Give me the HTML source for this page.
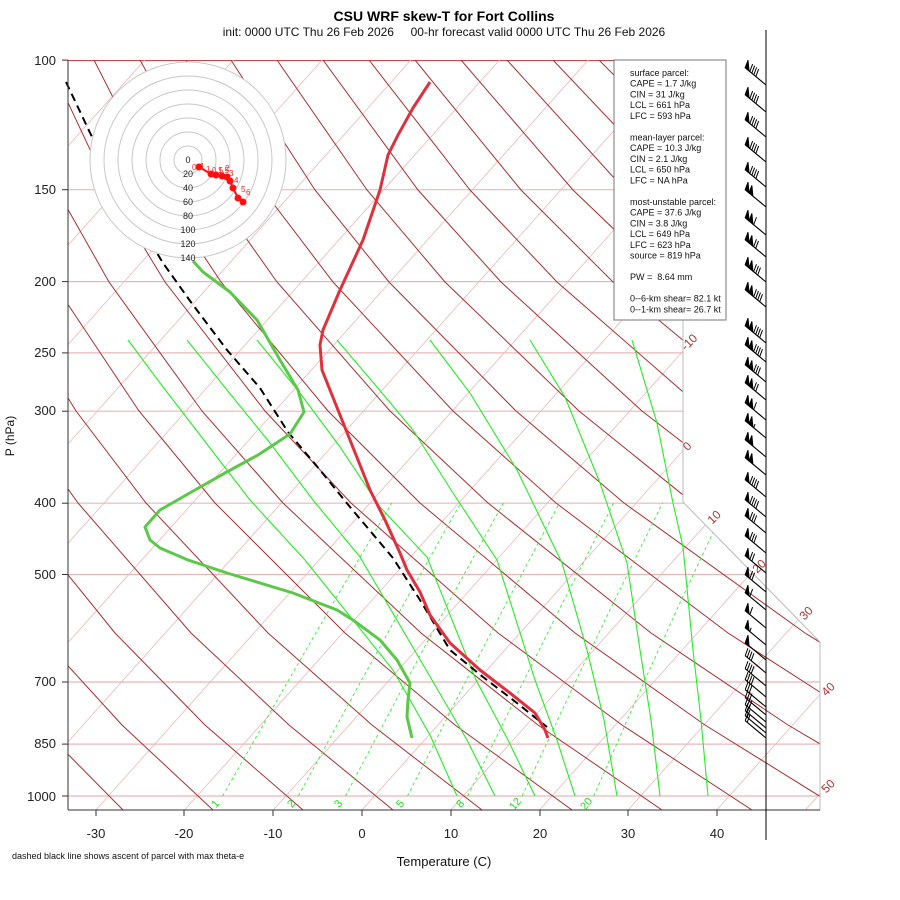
<!DOCTYPE html>
<html><head><meta charset="utf-8">
<style>
html,body{margin:0;padding:0;background:#fff;}
svg{display:block;font-family:"Liberation Sans",sans-serif;}
</style></head>
<body>
<svg width="900" height="900" viewBox="0 0 900 900" xmlns="http://www.w3.org/2000/svg" xmlns:xlink="http://www.w3.org/1999/xlink">
<defs>
<clipPath id="cp"><polygon points="68,60 683,60 683,502 820,642 820,810 68,810"/></clipPath>
<line id="st" x1="0" y1="0" x2="-20.8" y2="-17.3" stroke="#000" stroke-width="1.1"/>
<polygon id="fa" points="-20.8,-17.3 -16.95,-14.1 -18,-24.8" fill="#000"/>
<polygon id="fb" points="-16.95,-14.1 -13.1,-10.9 -14.15,-21.6" fill="#000"/>
</defs>
<rect width="900" height="900" fill="#fff"/>
<g clip-path="url(#cp)" fill="none">
<!-- pressure lines -->
<g stroke="#e8b8b8" stroke-width="1.2">
<line x1="68" x2="820" y1="189.7" y2="189.7"/><line x1="68" x2="820" y1="281.6" y2="281.6"/>
<line x1="68" x2="820" y1="352.9" y2="352.9"/><line x1="68" x2="820" y1="411.2" y2="411.2"/>
<line x1="68" x2="820" y1="503.2" y2="503.2"/><line x1="68" x2="820" y1="574.5" y2="574.5"/>
<line x1="68" x2="820" y1="682" y2="682"/><line x1="68" x2="820" y1="744.1" y2="744.1"/>
<line x1="68" x2="820" y1="796" y2="796"/>
</g>
<line x1="68" x2="820" y1="60.5" y2="60.5" stroke="#b05050" stroke-width="1.2"/>
<!-- isotherms -->
<g stroke="#eab8b8" stroke-width="0.8">
<line x1="-525" y1="810" x2="144.75" y2="60"/><line x1="-436.3" y1="810" x2="233.45" y2="60"/>
<line x1="-347.6" y1="810" x2="322.15" y2="60"/><line x1="-258.9" y1="810" x2="410.85" y2="60"/>
<line x1="-170.2" y1="810" x2="499.55" y2="60"/><line x1="-81.5" y1="810" x2="588.25" y2="60"/>
<line x1="7.2" y1="810" x2="676.95" y2="60"/><line x1="95.9" y1="810" x2="765.65" y2="60"/>
<line x1="184.6" y1="810" x2="854.35" y2="60"/><line x1="273.3" y1="810" x2="943.05" y2="60"/>
<line x1="362" y1="810" x2="1031.75" y2="60"/><line x1="450.7" y1="810" x2="1120.45" y2="60"/>
<line x1="539.4" y1="810" x2="1209.15" y2="60"/><line x1="628.1" y1="810" x2="1297.85" y2="60"/>
<line x1="716.8" y1="810" x2="1386.55" y2="60"/><line x1="805.5" y1="810" x2="1475.25" y2="60"/>
</g>
<!-- dry adiabats: y = 810.1,724.7,632.7,503.2,411.2,281.6,189.7,60.1 -->
<g stroke="#a83030" stroke-width="1">
<polyline points="123,810 39,725 -38,633 -127,503 -175,411 -227,282 -252,190 -274,60"/>
<polyline points="213,810 122,725 38,633 -58,503 -113,411 -171,282 -201,190 -228,60"/>
<polyline points="303,810 205,725 115,633 10,503 -50,411 -115,282 -149,190 -182,60"/>
<polyline points="393,810 289,725 191,633 78,503 13,411 -59,282 -98,190 -136,60"/>
<polyline points="482,810 372,725 268,633 146,503 76,411 -3,282 -46,190 -90,60"/>
<polyline points="572,810 455,725 345,633 215,503 139,411 53,282 5,190 -44,60"/>
<polyline points="662,810 538,725 421,633 283,503 202,411 109,282 57,190 2,60"/>
<polyline points="752,810 622,725 498,633 351,503 265,411 165,282 109,190 48,60"/>
<polyline points="842,810 705,725 575,633 420,503 328,411 221,282 160,190 94,60"/>
<polyline points="932,810 788,725 651,633 488,503 390,411 277,282 212,190 140,60"/>
<polyline points="1021,810 871,725 728,633 556,503 453,411 333,282 263,190 186,60"/>
<polyline points="1111,810 954,725 805,633 624,503 516,411 389,282 315,190 231,60"/>
<polyline points="1201,810 1038,725 881,633 693,503 579,411 445,282 367,190 277,60"/>
<polyline points="1291,810 1121,725 958,633 761,503 642,411 501,282 418,190 323,60"/>
<polyline points="1381,810 1204,725 1035,633 829,503 705,411 557,282 470,190 369,60"/>
<polyline points="1470,810 1287,725 1111,633 897,503 768,411 613,282 521,190 415,60"/>
<polyline points="1560,810 1370,725 1188,633 966,503 831,411 669,282 573,190 461,60"/>
<polyline points="1650,810 1454,725 1265,633 1034,503 894,411 725,282 625,190 507,60"/>
<polyline points="1740,810 1537,725 1341,633 1102,503 956,411 781,282 676,190 553,60"/>
<polyline points="1830,810 1620,725 1418,633 1170,503 1019,411 837,282 728,190 599,60"/>
<polyline points="1920,810 1703,725 1495,633 1239,503 1082,411 893,282 779,190 645,60"/>
</g>
<!-- mixing ratio -->
<g stroke="#33ee33" stroke-width="0.9" stroke-dasharray="3,3">
<polyline points="222.6,796 287.5,682 332,605 391.8,503"/>
<polyline points="298.4,796 360.5,682 403.2,605 460.7,503"/>
<polyline points="345.4,796 405.7,682 447.3,605 503.3,503"/>
<polyline points="407.5,796 465.4,682 505.4,605 559.5,503"/>
<polyline points="467.7,796 523.2,682 561.6,605 613.7,503"/>
<polyline points="522.1,796 575.3,682 612.3,605 662.6,503"/>
<polyline points="593.8,796 644,682 679,605 726.8,503"/>
</g>
<!-- moist adiabats -->
<g stroke="#22ee22" stroke-width="1.1">
<polyline points="128,340 160,383 200,435 250,500 305,560 393,670 430,735 457,796"/>
<polyline points="187,340 227,390 270,443 313,500 360,557 432,680 467,740 495,796"/>
<polyline points="257,340 300,393 340,447 380,507 427,557 476,680 508,740 535,796"/>
<polyline points="337,340 377,387 413,430 453,493 497,560 535,680 557,740 575,796"/>
<polyline points="430,340 470,393 517,470 562,563 587,650 604,720 617,796"/>
<polyline points="530,340 565,397 600,483 627,563 640,650 651,720 660,796"/>
<polyline points="632,340 657,423 673,503 683,547 693,650 701,720 708,796"/>
</g>
</g>
<!-- profiles -->
<g fill="none" stroke-linejoin="round">
<polyline points="66,82 92,137 125,200 163,263 193,305 227,350 260,388 288,432 320,470 350,507 393,558 402,572 420,600 450,650 483,677 517,703 547,727" stroke="#000" stroke-width="2" stroke-dasharray="8,5"/>
<polyline points="430,82 413,108 398,135 388,155 380,190 363,240 340,290 323,330 320,345 322,370 330,390 350,440 370,490 385,520 400,553 407,570 420,592 430,615 450,643 480,670 510,693 535,713 545,730 548,738" stroke="#e0303e" stroke-width="3"/>
<polyline points="193,261 203,272 230,292 257,320 280,360 298,390 304,412 290,434 258,455 225,473 195,490 160,510 145,527 150,540 160,548 188,560 227,573 293,593 337,610 353,620 380,640 397,660 410,683 408,700 407,717 412,738" stroke="#5cc84a" stroke-width="3"/>
</g>
<!-- hodograph -->
<g fill="none" stroke="#c8c8c8" stroke-width="1">
<circle cx="188" cy="160" r="98" fill="#fff"/>
<circle cx="188" cy="160" r="14"/><circle cx="188" cy="160" r="28"/><circle cx="188" cy="160" r="42"/>
<circle cx="188" cy="160" r="56"/><circle cx="188" cy="160" r="70"/><circle cx="188" cy="160" r="84"/>
</g>
<g font-size="9" fill="#222" text-anchor="middle">
<text x="188" y="163">0</text><text x="188" y="177">20</text><text x="188" y="191">40</text>
<text x="188" y="205">60</text><text x="188" y="219">80</text><text x="188" y="233">100</text>
<text x="188" y="247">120</text><text x="188" y="261">140</text>
</g>
<polyline points="199,167 211,174 216,175 222,176 227,177 230,181 233,188 238,198 243,202" fill="none" stroke="#ff1010" stroke-width="2"/>
<g fill="#ff1010">
<circle cx="199" cy="167" r="3.5"/><circle cx="211" cy="174" r="3.5"/><circle cx="216" cy="175" r="3.5"/>
<circle cx="222" cy="176" r="3.5"/><circle cx="227" cy="177" r="3.5"/><circle cx="230" cy="181" r="3.5"/>
<circle cx="233" cy="188" r="3.5"/><circle cx="238" cy="198" r="3.5"/><circle cx="243" cy="202" r="3.5"/>
</g>
<g font-size="8" fill="#ff2020">
<text x="192" y="170">0</text><text x="198" y="169">.1</text><text x="206" y="172">1</text>
<text x="212" y="173">0.5</text><text x="218" y="173">1.5</text><text x="225" y="171">2</text>
<text x="229" y="176">3</text><text x="234" y="183">4</text><text x="241" y="192">5</text><text x="246" y="195">6</text>
</g>
<!-- boundary -->
<polyline points="683,60 683,502 820,642 820,810" fill="none" stroke="#bbb" stroke-width="1"/>
<!-- axes -->
<g stroke="#333" stroke-width="1" fill="none">
<line x1="68" y1="60" x2="68" y2="810"/>
<line x1="68" y1="810" x2="820" y2="810"/>
<line x1="766" y1="30" x2="766" y2="840" stroke="#000"/>
<line x1="62" x2="68" y1="60.1" y2="60.1"/><line x1="62" x2="68" y1="189.7" y2="189.7"/>
<line x1="62" x2="68" y1="281.6" y2="281.6"/><line x1="62" x2="68" y1="352.9" y2="352.9"/>
<line x1="62" x2="68" y1="411.2" y2="411.2"/><line x1="62" x2="68" y1="503.2" y2="503.2"/>
<line x1="62" x2="68" y1="574.5" y2="574.5"/><line x1="62" x2="68" y1="682" y2="682"/>
<line x1="62" x2="68" y1="744.1" y2="744.1"/><line x1="62" x2="68" y1="796" y2="796"/>
<line x1="96" x2="96" y1="810" y2="816"/><line x1="184" x2="184" y1="810" y2="816"/>
<line x1="273" x2="273" y1="810" y2="816"/><line x1="362" x2="362" y1="810" y2="816"/>
<line x1="451" x2="451" y1="810" y2="816"/><line x1="540" x2="540" y1="810" y2="816"/>
<line x1="628" x2="628" y1="810" y2="816"/><line x1="717" x2="717" y1="810" y2="816"/>
</g>
<g font-size="13" fill="#222" text-anchor="end">
<text x="56" y="65">100</text><text x="56" y="194">150</text><text x="56" y="286">200</text>
<text x="56" y="357">250</text><text x="56" y="415">300</text><text x="56" y="507">400</text>
<text x="56" y="579">500</text><text x="56" y="686">700</text><text x="56" y="748">850</text>
<text x="56" y="801">1000</text>
</g>
<g font-size="13" fill="#222" text-anchor="middle">
<text x="96" y="838">-30</text><text x="184" y="838">-20</text><text x="273" y="838">-10</text>
<text x="362" y="838">0</text><text x="451" y="838">10</text><text x="540" y="838">20</text>
<text x="628" y="838">30</text><text x="717" y="838">40</text>
</g>
<text x="444" y="866" font-size="13" text-anchor="middle" fill="#111">Temperature (C)</text>
<text transform="translate(14,436) rotate(-90)" font-size="12" text-anchor="middle" fill="#111">P (hPa)</text>
<text x="444" y="21" font-size="14" font-weight="bold" text-anchor="middle" fill="#000">CSU WRF skew-T for Fort Collins</text>
<text x="444" y="36" font-size="12" text-anchor="middle" fill="#111" xml:space="preserve">init: 0000 UTC Thu 26 Feb 2026     00-hr forecast valid 0000 UTC Thu 26 Feb 2026</text>
<text x="12" y="859" font-size="9" fill="#111">dashed black line shows ascent of parcel with max theta-e</text>
<g font-size="12" fill="#b03030" text-anchor="middle">
<text transform="translate(692,345) rotate(-45)">-10</text>
<text transform="translate(690,449) rotate(-45)">0</text>
<text transform="translate(717,520) rotate(-45)">10</text>
<text transform="translate(762,569) rotate(-45)">20</text>
<text transform="translate(809,616) rotate(-45)">30</text>
<text transform="translate(831,692) rotate(-45)">40</text>
<text transform="translate(831,789) rotate(-45)">50</text>
</g>
<g font-size="11" fill="#22dd22" text-anchor="middle">
<text transform="translate(218,806) rotate(-50)">1</text>
<text transform="translate(294,806) rotate(-50)">2</text>
<text transform="translate(341,806) rotate(-50)">3</text>
<text transform="translate(403,806) rotate(-50)">5</text>
<text transform="translate(463,806) rotate(-50)">8</text>
<text transform="translate(518,806) rotate(-50)">12</text>
<text transform="translate(589,806) rotate(-50)">20</text>
</g>
<!-- stats box -->
<rect x="614" y="60" width="112" height="260" fill="#fff" stroke="#777" stroke-width="1"/>
<g font-size="9" fill="#111">
<text x="630" y="76">surface parcel:</text>
<text x="630" y="86.5">CAPE = 1.7 J/kg</text>
<text x="630" y="97.3">CIN = 31 J/kg</text>
<text x="630" y="108">LCL = 661 hPa</text>
<text x="630" y="118.8">LFC = 593 hPa</text>
<text x="630" y="140.3">mean-layer parcel:</text>
<text x="630" y="151">CAPE = 10.3 J/kg</text>
<text x="630" y="161.8">CIN = 2.1 J/kg</text>
<text x="630" y="172.5">LCL = 650 hPa</text>
<text x="630" y="183.3">LFC = NA hPa</text>
<text x="630" y="204.8">most-unstable parcel:</text>
<text x="630" y="215.5">CAPE = 37.6 J/kg</text>
<text x="630" y="226.3">CIN = 3.8 J/kg</text>
<text x="630" y="237">LCL = 649 hPa</text>
<text x="630" y="247.8">LFC = 623 hPa</text>
<text x="630" y="258.5">source = 819 hPa</text>
<text x="630" y="280" xml:space="preserve">PW =  8.64 mm</text>
<text x="630" y="301.5">0--6-km shear= 82.1 kt</text>
<text x="630" y="312.3">0--1-km shear= 26.7 kt</text>
</g>
<!-- wind barbs -->
<g stroke="#000" stroke-width="1" fill="none">
<g transform="translate(766,85)"><use href="#st"/><use href="#fa"/><path d="M-16.18,-13.46l2.8,-7.5M-14.18,-11.8l2.8,-7.5M-12.18,-10.13l2.8,-7.5M-10.17,-8.47l2.8,-7.5"/></g>
<g transform="translate(766,112)"><use href="#st"/><use href="#fa"/><path d="M-16.18,-13.46l2.8,-7.5M-14.18,-11.8l2.8,-7.5M-12.18,-10.13l2.8,-7.5M-10.17,-8.47l2.8,-7.5"/></g>
<g transform="translate(766,137)"><use href="#st"/><use href="#fa"/><path d="M-16.18,-13.46l2.8,-7.5M-14.18,-11.8l2.8,-7.5M-12.18,-10.13l2.8,-7.5M-10.17,-8.47l2.8,-7.5"/></g>
<g transform="translate(766,162)"><use href="#st"/><use href="#fa"/><path d="M-16.18,-13.46l2.8,-7.5M-14.18,-11.8l2.8,-7.5M-12.18,-10.13l2.8,-7.5M-10.17,-8.47l2.8,-7.5"/></g>
<g transform="translate(766,187)"><use href="#st"/><use href="#fa"/><path d="M-16.18,-13.46l2.8,-7.5M-14.18,-11.8l2.8,-7.5M-12.18,-10.13l2.8,-7.5M-10.17,-8.47l2.8,-7.5"/></g>
<g transform="translate(766,207)"><use href="#st"/><use href="#fa"/><use href="#fb"/></g>
<g transform="translate(766,235)"><use href="#st"/><use href="#fa"/><use href="#fb"/><path d="M-12.33,-10.26l2.8,-7.5"/></g>
<g transform="translate(766,257)"><use href="#st"/><use href="#fa"/><use href="#fb"/><path d="M-12.33,-10.26l2.8,-7.5M-10.33,-8.6l2.8,-7.5"/></g>
<g transform="translate(766,282)"><use href="#st"/><use href="#fa"/><use href="#fb"/><path d="M-12.33,-10.26l2.8,-7.5M-10.33,-8.6l2.8,-7.5M-8.33,-6.93l2.8,-7.5"/></g>
<g transform="translate(766,307)"><use href="#st"/><use href="#fa"/><use href="#fb"/><path d="M-12.33,-10.26l2.8,-7.5M-10.33,-8.6l2.8,-7.5M-8.33,-6.93l2.8,-7.5M-6.32,-5.27l2.8,-7.5"/></g>
<g transform="translate(766,343)"><use href="#st"/><use href="#fa"/><use href="#fb"/><path d="M-12.33,-10.26l2.8,-7.5M-10.33,-8.6l2.8,-7.5M-8.33,-6.93l2.8,-7.5M-6.32,-5.27l2.8,-7.5"/></g>
<g transform="translate(766,362)"><use href="#st"/><use href="#fa"/><use href="#fb"/><path d="M-12.33,-10.26l2.8,-7.5M-10.33,-8.6l2.8,-7.5M-8.33,-6.93l2.8,-7.5M-6.32,-5.27l2.8,-7.5"/></g>
<g transform="translate(766,382)"><use href="#st"/><use href="#fa"/><use href="#fb"/><path d="M-12.33,-10.26l2.8,-7.5M-10.33,-8.6l2.8,-7.5M-8.33,-6.93l2.8,-7.5"/></g>
<g transform="translate(766,400)"><use href="#st"/><use href="#fa"/><use href="#fb"/><path d="M-12.33,-10.26l2.8,-7.5M-10.33,-8.6l2.8,-7.5"/></g>
<g transform="translate(766,420)"><use href="#st"/><use href="#fa"/><use href="#fb"/><path d="M-12.33,-10.26l2.8,-7.5"/></g>
<g transform="translate(766,438)"><use href="#st"/><use href="#fa"/><use href="#fb"/><path d="M-12.33,-10.26l1.4,-3.75"/></g>
<g transform="translate(766,457)"><use href="#st"/><use href="#fa"/><use href="#fb"/></g>
<g transform="translate(766,475)"><use href="#st"/><use href="#fa"/><use href="#fb"/></g>
<g transform="translate(766,497)"><use href="#st"/><use href="#fa"/><path d="M-16.18,-13.46l2.8,-7.5M-14.18,-11.8l2.8,-7.5M-12.18,-10.13l2.8,-7.5M-10.17,-8.47l2.8,-7.5"/></g>
<g transform="translate(766,517)"><use href="#st"/><use href="#fa"/><path d="M-16.18,-13.46l2.8,-7.5M-14.18,-11.8l2.8,-7.5M-12.18,-10.13l2.8,-7.5M-10.17,-8.47l2.8,-7.5"/></g>
<g transform="translate(766,533)"><use href="#st"/><use href="#fa"/><path d="M-16.18,-13.46l2.8,-7.5M-14.18,-11.8l2.8,-7.5M-12.18,-10.13l2.8,-7.5"/></g>
<g transform="translate(766,553)"><use href="#st"/><use href="#fa"/><path d="M-16.18,-13.46l2.8,-7.5M-14.18,-11.8l2.8,-7.5M-12.18,-10.13l2.8,-7.5"/></g>
<g transform="translate(766,573)"><use href="#st"/><use href="#fa"/><path d="M-16.18,-13.46l2.8,-7.5M-14.18,-11.8l2.8,-7.5"/></g>
<g transform="translate(766,592)"><use href="#st"/><use href="#fa"/><path d="M-16.18,-13.46l2.8,-7.5M-14.18,-11.8l2.8,-7.5"/></g>
<g transform="translate(766,610)"><use href="#st"/><use href="#fa"/><path d="M-16.18,-13.46l2.8,-7.5"/></g>
<g transform="translate(766,628)"><use href="#st"/><use href="#fa"/><path d="M-16.18,-13.46l2.8,-7.5"/></g>
<g transform="translate(766,645)"><use href="#st"/><use href="#fa"/><path d="M-16.18,-13.46l1.4,-3.75"/></g>
<g transform="translate(766,660)"><use href="#st"/><use href="#fa"/></g>
<g transform="translate(766,673)"><use href="#st"/><path d="M-20.8,-17.3l2.8,-7.5M-18.8,-15.64l2.8,-7.5M-16.8,-13.97l2.8,-7.5M-14.8,-12.3l2.8,-7.5"/></g>
<g transform="translate(766,686)"><use href="#st"/><path d="M-20.8,-17.3l2.8,-7.5M-18.8,-15.64l2.8,-7.5M-16.8,-13.97l2.8,-7.5M-14.8,-12.3l2.8,-7.5"/></g>
<g transform="translate(766,697)"><use href="#st"/><path d="M-20.8,-17.3l2.8,-7.5M-18.8,-15.64l2.8,-7.5M-16.8,-13.97l2.8,-7.5M-14.8,-12.3l2.8,-7.5"/></g>
<g transform="translate(766,707)"><use href="#st"/><path d="M-20.8,-17.3l2.8,-7.5M-18.8,-15.64l2.8,-7.5M-16.8,-13.97l2.8,-7.5"/></g>
<g transform="translate(766,715)"><use href="#st"/><path d="M-20.8,-17.3l2.8,-7.5M-18.8,-15.64l2.8,-7.5M-16.8,-13.97l2.8,-7.5"/></g>
<g transform="translate(766,722)"><use href="#st"/><path d="M-20.8,-17.3l2.8,-7.5M-18.8,-15.64l2.8,-7.5M-16.8,-13.97l2.8,-7.5"/></g>
<g transform="translate(766,728)"><use href="#st"/><path d="M-20.8,-17.3l2.8,-7.5M-18.8,-15.64l2.8,-7.5"/></g>
<g transform="translate(766,733)"><use href="#st"/><path d="M-20.8,-17.3l2.8,-7.5M-18.8,-15.64l2.8,-7.5"/></g>
<g transform="translate(766,738)"><use href="#st"/><path d="M-20.8,-17.3l2.8,-7.5M-18.8,-15.64l2.8,-7.5"/></g>
</g>
</svg>
</body></html>
